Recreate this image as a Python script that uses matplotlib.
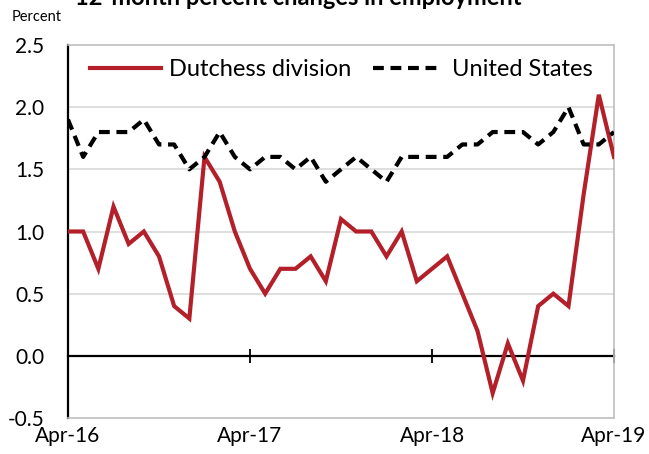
import numpy as np
import matplotlib
matplotlib.use("Agg")
from matplotlib import pyplot as plt

plt.rcParams['font.family'] = ['Lato', 'DejaVu Sans']

# monthly series, Apr-16 .. Apr-19
months = ['Apr-16', 'May-16', 'Jun-16', 'Jul-16', 'Aug-16', 'Sep-16', 'Oct-16', 'Nov-16', 'Dec-16',
          'Jan-17', 'Feb-17', 'Mar-17', 'Apr-17', 'May-17', 'Jun-17', 'Jul-17', 'Aug-17', 'Sep-17',
          'Oct-17', 'Nov-17', 'Dec-17', 'Jan-18', 'Feb-18', 'Mar-18', 'Apr-18', 'May-18', 'Jun-18',
          'Jul-18', 'Aug-18', 'Sep-18', 'Oct-18', 'Nov-18', 'Dec-18', 'Jan-19', 'Feb-19', 'Mar-19',
          'Apr-19']
dutchess = [1.0, 1.0, 0.7, 1.2, 0.9, 1.0, 0.8, 0.4, 0.3,
            1.6, 1.4, 1.0, 0.7, 0.5, 0.7, 0.7, 0.8, 0.6,
            1.1, 1.0, 1.0, 0.8, 1.0, 0.6, 0.7, 0.8, 0.5,
            0.2, -0.3, 0.1, -0.2, 0.4, 0.5, 0.4, 1.3, 2.1,
            1.6]
us = [1.9, 1.6, 1.8, 1.8, 1.8, 1.9, 1.7, 1.7, 1.5,
      1.6, 1.8, 1.6, 1.5, 1.6, 1.6, 1.5, 1.6, 1.4,
      1.5, 1.6, 1.5, 1.4, 1.6, 1.6, 1.6, 1.6, 1.7,
      1.7, 1.8, 1.8, 1.8, 1.7, 1.8, 2.0, 1.7, 1.7,
      1.8]
tick_labels = ['Apr-16', 'Apr-17', 'Apr-18', 'Apr-19']
yticks = [-0.5, 0.0, 0.5, 1.0, 1.5, 2.0, 2.5]

RED = '#B3202A'
GRID = '#D9D9D9'
FRAME = '#BFBFBF'

W, H = 649, 454
fig = plt.figure(figsize=(W/100, H/100), dpi=100)
ax = fig.add_axes([68/W, 1-418/H, (614-68)/W, (418-45)/H])

x = np.arange(len(months))
ax.plot(x, dutchess, color=RED, lw=3.0, solid_joinstyle='miter', label='Dutchess division', zorder=3)
ax.plot(x, us, color='black', lw=3.0, linestyle=(0, (2.6, 1.6)), label='United States', zorder=4)

ax.set_xlim(0, len(months)-1)
ax.set_ylim(-0.5, 2.5)
ax.set_yticks(yticks)
ax.set_yticklabels([f'{v:.1f}' for v in yticks])
ax.set_xticks([months.index(m) for m in tick_labels])
ax.set_xticklabels(tick_labels)
ax.tick_params(axis='y', length=0, pad=17, labelsize=15)
ax.tick_params(axis='x', length=0, pad=6, labelsize=15)

for v in yticks:
    if v > 0 and v < 2.5:
        ax.axhline(v, color=GRID, lw=1.2, zorder=1)

for s in ['top', 'right', 'bottom']:
    ax.spines[s].set_color(FRAME)
    ax.spines[s].set_linewidth(1.2)
ax.spines['left'].set_color('black')
ax.spines['left'].set_linewidth(1.6)

# zero line with the month ticks
zero = ax.secondary_xaxis(0.5/3.0)
zero.set_xticks(ax.get_xticks())
zero.tick_params(axis='x', direction='inout', length=10, width=1.3, labelbottom=False)
zero.spines['bottom'].set_color('black')
zero.spines['bottom'].set_linewidth(1.6)

leg = ax.legend(ncol=2, frameon=False, loc='center left',
                bbox_to_anchor=(90/W, 1-70/H), bbox_transform=fig.transFigure,
                borderpad=0, borderaxespad=0, handlelength=3.0, handletextpad=0.35,
                columnspacing=0.9, fontsize=17)

fig.text(12/W, 1-17/H, 'Percent', fontsize=10.5, va='center', ha='left')
fig.text(298/W, 1-5/H, '12-month percent changes in employment', fontsize=17,
         fontweight='bold', ha='center', va='baseline')

fig.savefig('out.png', dpi=100)
